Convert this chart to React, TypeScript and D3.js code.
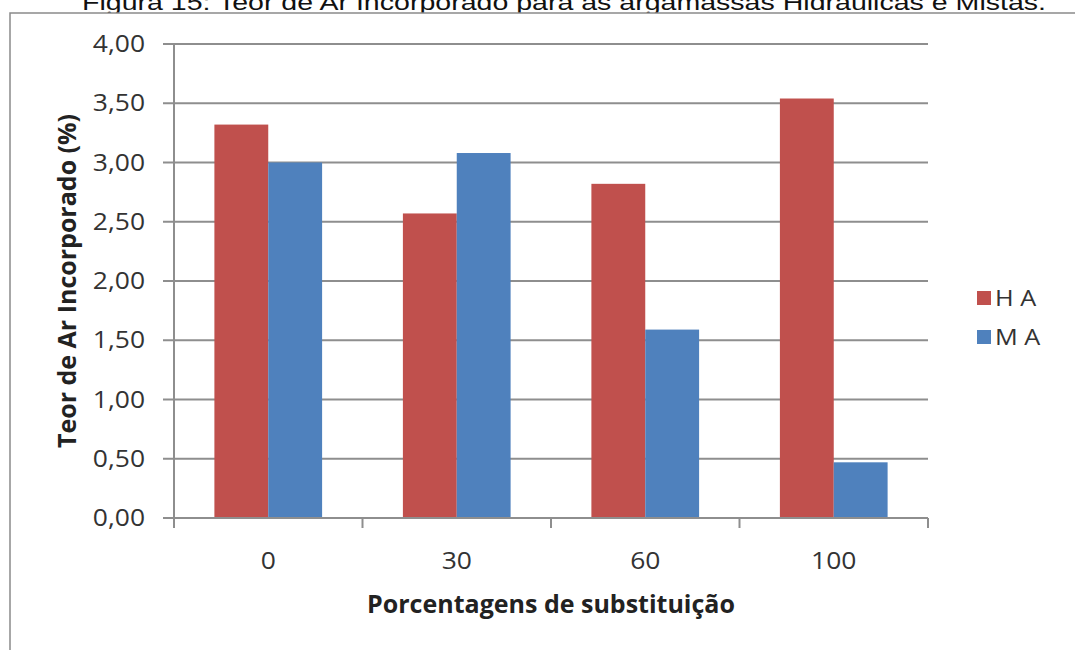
import React from "react";
import * as d3 from "d3";

// Air content (%) per replacement percentage, for the two mortar series
const categories = ["0", "30", "60", "100"];
const seriesNames = ["H A", "M A"];
const haValues = [3.32, 2.57, 2.82, 3.54];
const maValues = [3.0, 3.08, 1.59, 0.47];
const yTicks = [0, 0.5, 1, 1.5, 2, 2.5, 3, 3.5, 4];
const seriesColors = ["#C0504D", "#4F81BD"];

const W = 1075;
const H = 650;
const plot = { left: 174, right: 928, top: 44, bottom: 518 };
const axisGray = "#8e8e8e";
const tickFont = "'Open Sans', Calibri, sans-serif";

export default function App() {
  const x = d3.scaleBand<string>().domain(categories).range([plot.left, plot.right]).padding(0);
  const inner = d3
    .scaleBand<string>()
    .domain(seriesNames)
    .range([0, x.bandwidth()])
    .paddingInner(0)
    .paddingOuter(0.75);
  const y = d3.scaleLinear().domain([0, 4]).range([plot.bottom, plot.top]);
  const fmt = (v: number) => d3.format(".2f")(v).replace(".", ",");

  const series = [haValues, maValues];
  const boundaries = [...categories.map((c) => x(c) as number), plot.right];

  return (
    <svg
      width={W}
      height={H}
      style={{ position: "absolute", left: 0, top: 0, background: "#fff" }}
    >
      {/* caption line partly above the frame */}
      <text
        x={82}
        y={10}
        fontFamily="'Liberation Sans', Arial, sans-serif"
        fontSize={22}
        textLength={964}
        lengthAdjust="spacingAndGlyphs"
        fill="#111"
      >
        Figura 15: Teor de Ar Incorporado para as argamassas Hidráulicas e Mistas.
      </text>

      {/* chart frame */}
      <rect x={10} y={13} width={W + 20} height={H + 20} fill="#fff" stroke="#8a8a8a" strokeWidth={1.5} />

      {/* horizontal gridlines and y ticks */}
      {yTicks.map((t) => (
        <g key={t}>
          <line x1={163} x2={plot.right} y1={y(t)} y2={y(t)} stroke={axisGray} strokeWidth={2} />
          <g transform={`translate(145,${y(t) + 8}) scale(1.15,1)`}>
            <text textAnchor="end" fontFamily={tickFont} fontSize={23} fill="#333">
              {fmt(t)}
            </text>
          </g>
        </g>
      ))}

      {/* bars */}
      {categories.map((c, i) =>
        seriesNames.map((s, j) => {
          const v = series[j][i];
          return (
            <rect
              key={c + s}
              x={(x(c) as number) + (inner(s) as number)}
              y={y(v)}
              width={inner.bandwidth()}
              height={y(0) - y(v)}
              fill={seriesColors[j]}
            />
          );
        })
      )}

      {/* axes */}
      <line x1={plot.left} x2={plot.left} y1={plot.top} y2={plot.bottom + 10} stroke={axisGray} strokeWidth={2} />
      <line x1={plot.left} x2={plot.right} y1={plot.bottom} y2={plot.bottom} stroke={axisGray} strokeWidth={2} />
      {boundaries.map((bx, i) => (
        <line key={i} x1={bx} x2={bx} y1={plot.bottom} y2={plot.bottom + 10} stroke={axisGray} strokeWidth={2} />
      ))}

      {/* category labels */}
      {categories.map((c) => (
        <g key={c} transform={`translate(${(x(c) as number) + x.bandwidth() / 2},569) scale(1.15,1)`}>
          <text textAnchor="middle" fontFamily={tickFont} fontSize={23} fill="#333">
            {c}
          </text>
        </g>
      ))}

      {/* axis titles */}
      <text
        x={(plot.left + plot.right) / 2}
        y={613}
        textAnchor="middle"
        fontFamily={tickFont}
        fontWeight="bold"
        fontSize={25}
        fill="#222"
      >
        Porcentagens de substituição
      </text>
      <text
        transform={`translate(76,${(plot.top + plot.bottom) / 2}) rotate(-90)`}
        textAnchor="middle"
        fontFamily={tickFont}
        fontWeight="bold"
        fontSize={25}
        fill="#222"
      >
        Teor de Ar Incorporado (%)
      </text>

      {/* legend */}
      {seriesNames.map((s, j) => (
        <g key={s} transform={`translate(977,${298 + j * 39})`}>
          <rect x={0} y={-7} width={14} height={14} fill={seriesColors[j]} />
          <g transform="translate(18,8) scale(1.15,1)">
            <text fontFamily={tickFont} fontSize={22} fill="#333">
              {s}
            </text>
          </g>
        </g>
      ))}
    </svg>
  );
}
